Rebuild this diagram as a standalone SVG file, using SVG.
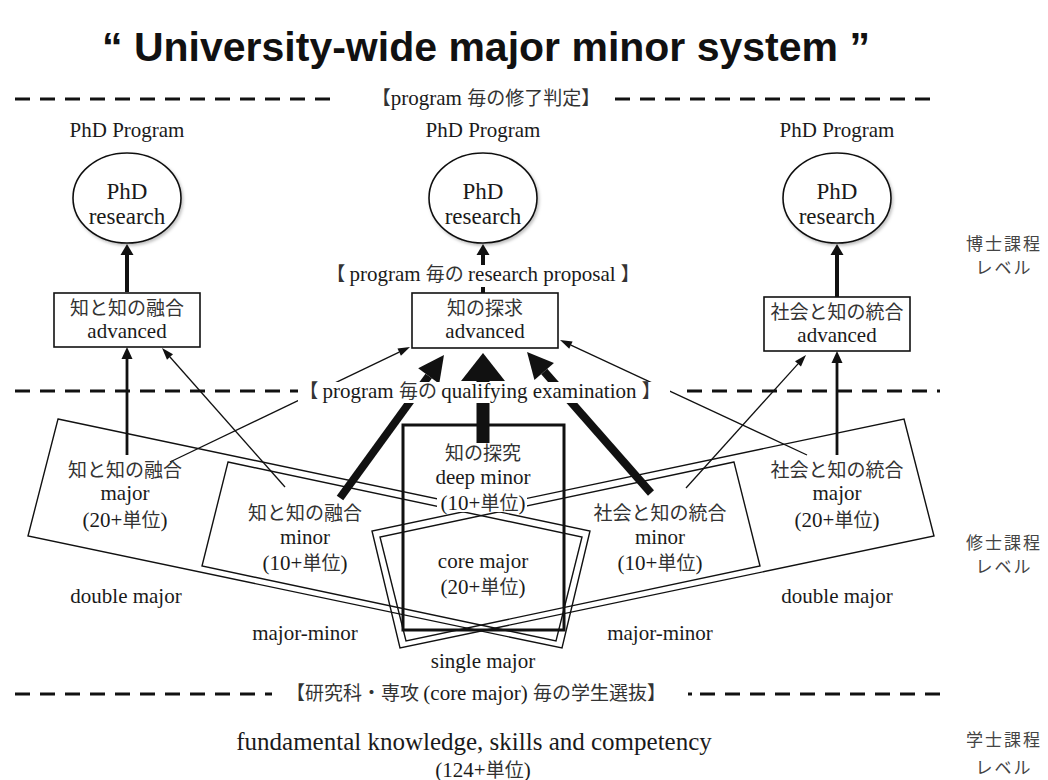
<svg xmlns="http://www.w3.org/2000/svg" width="1048" height="780" viewBox="0 0 1048 780">
<defs>
  <marker id="ah-thin" markerUnits="userSpaceOnUse" markerWidth="12" markerHeight="8" refX="0" refY="4" orient="auto" overflow="visible"><path d="M0,0 L12,4 L0,8 z" fill="#111"/></marker>
  <marker id="ah-med" markerUnits="userSpaceOnUse" markerWidth="12" markerHeight="11" refX="0" refY="5.5" orient="auto" overflow="visible"><path d="M0,0 L12,5.5 L0,11 z" fill="#111"/></marker>
  <marker id="ah-phd" markerUnits="userSpaceOnUse" markerWidth="11" markerHeight="13" refX="0" refY="6.5" orient="auto" overflow="visible"><path d="M0,0 L11,6.5 L0,13 z" fill="#111"/></marker>
  <marker id="ah-thick" markerUnits="userSpaceOnUse" markerWidth="26" markerHeight="26" refX="0" refY="13" orient="auto" overflow="visible"><path d="M0,0 L26,13 L0,26 z" fill="#111"/></marker>
  <marker id="ah-huge" markerUnits="userSpaceOnUse" markerWidth="28" markerHeight="44" refX="0" refY="22" orient="auto" overflow="visible"><path d="M0,0 L28,22 L0,44 z" fill="#111"/></marker>
  <filter id="shadow" x="-20%" y="-20%" width="150%" height="150%">
    <feDropShadow dx="1.5" dy="2" stdDeviation="1.5" flood-color="#000" flood-opacity="0.25"/>
  </filter>
</defs>
<style>
  .t { font-family: 'Liberation Serif', 'Noto Sans CJK JP', serif; font-size: 21px; fill: #1a1a1a; text-anchor: middle; }
  .j { font-family: 'Noto Sans CJK JP', sans-serif; font-size: 19px; fill: #333; }
  .lg { font-size: 23px; }
  .side { font-family: 'Noto Sans CJK JP', sans-serif; font-size: 17px; fill: #444; text-anchor: middle; letter-spacing: 2px; }
  .title { font-family: 'Liberation Sans', Arial, sans-serif; font-weight: bold; font-size: 41px; fill: #111; text-anchor: middle; }
  .dash { stroke: #111; stroke-width: 3; stroke-dasharray: 15 10; fill: none; }
  .shape { fill: none; stroke: #111; stroke-width: 1.4; }
  .box { fill: #fff; stroke: #111; stroke-width: 1.6; }
  .circ { fill: #fff; stroke: #111; stroke-width: 1.6; filter: url(#shadow); }
  .core { fill: none; stroke: #111; stroke-width: 3; }
  .bg { fill: #fff; }
  .c-thin { stroke: #111; stroke-width: 1.3; fill: none; marker-end: url(#ah-thin); }
  .c-med { stroke: #111; stroke-width: 2.8; fill: none; marker-end: url(#ah-med); }
  .c-phd { stroke: #111; stroke-width: 4; fill: none; marker-end: url(#ah-phd); }
  .c-thick { stroke: #111; stroke-width: 8; fill: none; marker-end: url(#ah-thick); }
  .c-huge { stroke: #111; stroke-width: 13; fill: none; marker-end: url(#ah-huge); }
</style>
<rect width="1048" height="780" fill="#fff"/>

<text class="title" x="486" y="61">“ University-wide major minor system ”</text>

<!-- band dashed lines -->
<g id="bands">
  <path class="dash" d="M15,99 H338 M615,99 H940"/>
  <path class="dash" d="M15,391 H300 M687,391 H940"/>
  <path class="dash" d="M15,694 H272 M700,694 H940"/>
  <path d="M688,694 H692" stroke="#111" stroke-width="3"/>
</g>

<!-- program shapes -->
<g id="double-major-left"><polygon class="shape" points="58,419 590,531 562,648 28,536"/></g>
<g id="double-major-right"><polygon class="shape" points="904,419 934,536 400,648 372,531"/></g>
<g id="major-minor-left"><polygon class="shape" points="228,462 582,537 556,641 202,566"/></g>
<g id="major-minor-right"><polygon class="shape" points="734,462 380,537 406,641 760,566"/></g>
<g id="core-box"><rect class="core" x="403" y="425" width="161" height="205"/></g>

<!-- connectors -->
<g id="connectors">
  <line class="c-phd" x1="127" y1="292" x2="127" y2="255"/>
  <line class="c-phd" x1="483" y1="293" x2="483" y2="255"/>
  <line class="c-phd" x1="837" y1="297" x2="837" y2="255"/>
  <line class="c-med" x1="127" y1="455" x2="127" y2="359"/>
  <line class="c-med" x1="837" y1="455" x2="837" y2="363"/>
  <line class="c-thin" x1="285" y1="487" x2="170" y2="357"/>
  <line class="c-thin" x1="170" y1="462" x2="399.2" y2="352.2"/>
  <line class="c-thin" x1="807" y1="455" x2="570.9" y2="345.1"/>
  <line class="c-thin" x1="686" y1="488" x2="798" y2="363.9"/>
  <line class="c-thick" x1="340" y1="498" x2="428.7" y2="376"/>
  <line class="c-thick" x1="651" y1="493" x2="544.2" y2="371.5"/>
  <line class="c-huge" x1="483" y1="443" x2="483" y2="381"/>
</g>

<!-- band labels -->
<g id="band-labels">
  <text class="t" x="486" y="105"><tspan class="j">【</tspan>program <tspan class="j">毎の修了判定】</tspan></text>
  <rect class="bg" x="330" y="265" width="306" height="22"/>
  <text class="t" x="483" y="281"><tspan class="j">【 </tspan>program <tspan class="j">毎の </tspan>research proposal <tspan class="j">】</tspan></text>
  <rect class="bg" x="298" y="382" width="372" height="21"/>
  <text class="t" x="480" y="398"><tspan class="j">【 </tspan>program <tspan class="j">毎の </tspan>qualifying examination <tspan class="j">】</tspan></text>
  <text class="t" x="476" y="700"><tspan class="j">【研究科・専攻 </tspan>(core major) <tspan class="j">毎の学生選抜】</tspan></text>
</g>

<!-- PhD nodes -->
<g id="phd-left">
  <text class="t" x="127" y="137">PhD Program</text>
  <ellipse class="circ" cx="127" cy="198" rx="54" ry="45"/>
  <text class="t lg" x="127" y="199">PhD</text>
  <text class="t lg" x="127" y="224">research</text>
</g>
<g id="phd-mid">
  <text class="t" x="483" y="137">PhD Program</text>
  <ellipse class="circ" cx="483" cy="198" rx="54" ry="45"/>
  <text class="t lg" x="483" y="199">PhD</text>
  <text class="t lg" x="483" y="224">research</text>
</g>
<g id="phd-right">
  <text class="t" x="837" y="137">PhD Program</text>
  <ellipse class="circ" cx="837" cy="198" rx="54" ry="45"/>
  <text class="t lg" x="837" y="199">PhD</text>
  <text class="t lg" x="837" y="224">research</text>
</g>

<!-- advanced nodes -->
<g id="adv-left">
  <rect class="box" x="54" y="293" width="146" height="54"/>
  <text class="t j" x="127" y="315">知と知の融合</text>
  <text class="t" x="127" y="338">advanced</text>
</g>
<g id="adv-mid">
  <rect class="box" x="412" y="293" width="146" height="55"/>
  <text class="t j" x="485" y="315">知の探求</text>
  <text class="t" x="485" y="338">advanced</text>
</g>
<g id="adv-right">
  <rect class="box" x="764" y="297" width="146" height="54"/>
  <text class="t j" x="837" y="319">社会と知の統合</text>
  <text class="t" x="837" y="342">advanced</text>
</g>

<!-- master level nodes -->
<g id="major-left">
  <text class="t j" x="125" y="477">知と知の融合</text>
  <text class="t" x="125" y="500">major</text>
  <text class="t" x="125" y="527">(20+<tspan class="j">単位</tspan>)</text>
</g>
<g id="minor-left">
  <text class="t j" x="305" y="520">知と知の融合</text>
  <text class="t" x="305" y="544">minor</text>
  <text class="t" x="305" y="570">(10+<tspan class="j">単位</tspan>)</text>
</g>
<g id="core">
  <text class="t j" x="483" y="460">知の探究</text>
  <text class="t" x="483" y="484">deep minor</text>
  <rect class="bg" x="437" y="494" width="90" height="18"/>
  <text class="t" x="483" y="510">(10+<tspan class="j">単位</tspan>)</text>
  <text class="t" x="483" y="568">core major</text>
  <text class="t" x="483" y="594">(20+<tspan class="j">単位</tspan>)</text>
</g>
<g id="minor-right">
  <text class="t j" x="660" y="520">社会と知の統合</text>
  <text class="t" x="660" y="544">minor</text>
  <text class="t" x="660" y="570">(10+<tspan class="j">単位</tspan>)</text>
</g>
<g id="major-right">
  <text class="t j" x="837" y="477">社会と知の統合</text>
  <text class="t" x="837" y="500">major</text>
  <text class="t" x="837" y="527">(20+<tspan class="j">単位</tspan>)</text>
</g>

<!-- program type labels -->
<g id="type-labels">
  <text class="t" x="126" y="603">double major</text>
  <text class="t" x="837" y="603">double major</text>
  <text class="t" x="305" y="640">major-minor</text>
  <text class="t" x="660" y="640">major-minor</text>
  <text class="t" x="483" y="668">single major</text>
</g>

<!-- bachelor -->
<g id="bachelor">
  <text class="t" x="474" y="750" style="font-size:25px">fundamental knowledge, skills and competency</text>
  <text class="t" x="483" y="777">(124+<tspan class="j">単位</tspan>)</text>
</g>

<!-- level labels -->
<g id="levels">
  <text class="side" x="1004" y="250">博士課程</text>
  <text class="side" x="1004" y="274">レベル</text>
  <text class="side" x="1004" y="549">修士課程</text>
  <text class="side" x="1004" y="573">レベル</text>
  <text class="side" x="1004" y="746">学士課程</text>
  <text class="side" x="1004" y="774">レベル</text>
</g>
</svg>
